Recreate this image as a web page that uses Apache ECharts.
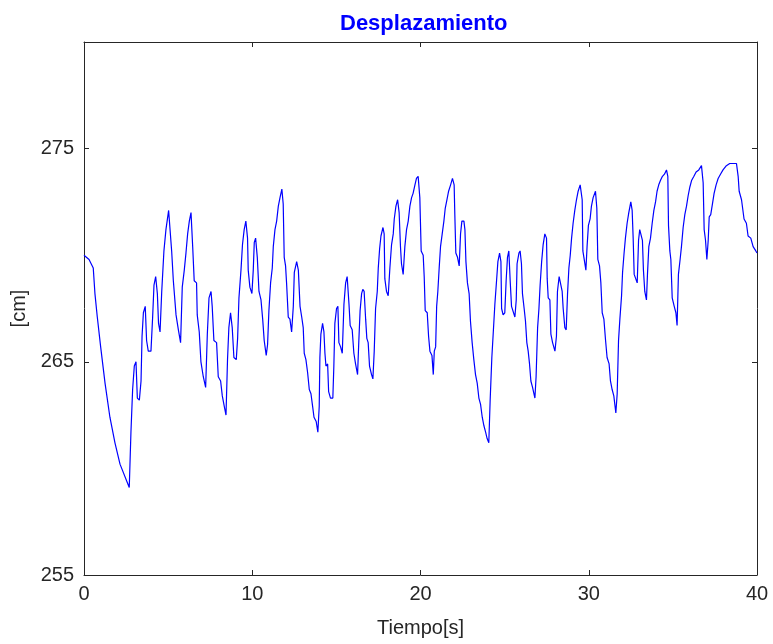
<!DOCTYPE html>
<html>
<head>
<meta charset="utf-8">
<script src="https://cdn.jsdelivr.net/npm/echarts@6/dist/echarts.min.js"></script>
<style>
html,body{margin:0;padding:0;background:#fff;}
#chart{width:773px;height:644px;}
</style>
</head>
<body>
<div id="chart"></div>
<script>
var chartTitle = 'Desplazamiento';
var xAxisName = 'Tiempo[s]';
var yAxisName = '[cm]';
var xTicks = [0, 10, 20, 30, 40];
var yTicks = [255, 265, 275];

var tiempo = [
0,0.3,0.55,0.65,0.79,0.99,1.25,1.54,1.84,2.14,2.69,2.79,2.89,2.99,3.09,3.17,3.29,3.39,3.45,3.53,3.64,3.72,3.82,3.98,4.08,4.16,4.26,4.36,4.43,4.52,4.62,4.75,4.87,5.03,
5.11,5.21,5.31,5.47,5.61,5.74,5.84,5.96,6.06,6.16,6.26,6.36,6.46,6.55,6.69,6.73,6.85,6.95,7.09,7.23,7.33,7.43,7.55,7.62,7.72,7.88,7.98,8.12,8.22,8.34,8.44,8.53,8.61,8.71,8.81,8.91,9.05,9.13,9.21,9.33,9.42,9.52,9.62,9.72,9.76,9.86,9.98,
10.06,10.12,10.2,10.3,10.4,10.52,10.62,10.71,10.83,10.91,10.99,11.09,11.19,11.25,11.35,11.45,11.55,11.65,11.76,11.84,11.9,11.98,12.04,12.14,12.24,12.34,12.44,12.5,12.64,12.74,12.84,12.94,13.03,13.09,13.19,13.29,13.39,13.49,13.59,13.67,13.8,13.9,13.98,14.02,14.08,14.18,14.26,14.32,14.38,14.48,14.54,14.65,14.79,14.85,14.91,15.01,15.09,
15.15,15.25,15.35,15.45,15.55,15.64,15.75,15.82,15.94,16.04,16.14,16.26,16.33,16.41,16.5,16.57,16.65,16.74,16.81,16.89,16.97,17.09,17.17,17.25,17.33,17.43,17.49,17.57,17.65,17.77,17.84,17.88,17.98,18.08,18.18,18.28,18.38,18.44,18.54,18.64,18.73,18.81,18.87,18.97,19.07,19.17,19.27,19.37,19.47,19.56,19.67,19.76,19.86,19.96,20.04,
20.16,20.22,20.28,20.4,20.48,20.56,20.68,20.76,20.82,20.9,20.96,21.03,21.11,21.19,21.29,21.39,21.47,21.57,21.67,21.79,21.9,22.0,22.04,22.1,22.2,22.3,22.38,22.46,22.58,22.64,22.7,22.79,22.89,22.97,23.07,23.17,23.27,23.37,23.47,23.57,23.67,23.77,23.87,23.96,24.06,24.14,24.24,24.32,24.42,24.52,24.6,24.7,24.78,24.82,24.91,
25.01,25.09,25.17,25.25,25.33,25.41,25.51,25.61,25.69,25.74,25.85,25.92,26.0,26.06,26.16,26.24,26.32,26.4,26.48,26.56,26.66,26.8,26.87,26.96,27.04,27.11,27.2,27.29,27.39,27.49,27.53,27.59,27.69,27.75,27.85,27.99,28.08,28.14,28.24,28.34,28.42,28.48,28.58,28.66,28.74,28.82,28.9,28.98,29.07,29.17,29.27,29.37,29.49,29.61,29.65,29.73,29.83,29.9,29.98,30.08,30.16,30.26,30.4,
30.48,30.54,30.64,30.72,30.8,30.9,31.0,31.09,31.21,31.29,31.39,31.49,31.61,31.69,31.77,31.85,31.95,32.01,32.1,32.18,32.28,32.38,32.5,32.58,32.64,32.7,32.8,32.88,32.96,33.03,33.13,33.19,33.25,33.33,33.43,33.49,33.57,33.67,33.77,33.87,33.97,34.06,34.16,34.26,34.38,34.5,34.62,34.7,34.74,34.82,34.88,34.96,35.08,35.18,35.25,
35.33,35.43,35.51,35.61,35.71,35.81,35.91,36.01,36.11,36.25,36.38,36.54,36.7,36.8,36.86,36.94,37.02,37.1,37.16,37.25,37.35,37.45,37.57,37.69,37.83,37.98,38.18,38.38,38.64,38.78,38.88,38.94,39.08,39.23,39.37,39.47,39.63,39.77,39.93,40.0
];

var desplazamiento = [
270.0,269.8,269.4,268.2,267.1,265.7,264.0,262.4,261.2,260.2,259.1,261.7,263.7,264.8,265.0,263.3,263.2,264.1,266.2,267.3,267.6,266.0,265.5,265.5,267.1,268.6,269.0,268.2,266.8,266.4,268.3,270.2,271.2,272.1,
272.1,270.2,268.8,267.2,266.5,265.9,268.5,269.3,270.1,271.0,271.6,272.0,270.4,268.8,268.7,267.2,266.4,265.0,264.3,263.8,266.3,268.0,268.3,267.6,266.0,265.9,264.3,264.1,263.4,262.9,262.5,265.1,266.6,267.3,266.6,265.2,265.1,266.1,268.0,269.3,270.5,271.2,271.6,270.8,269.3,268.5,268.2,
269.3,270.6,270.8,269.9,268.3,267.9,267.0,266.0,265.3,265.8,267.4,268.7,269.4,270.4,271.2,271.6,272.3,272.7,273.1,272.4,269.9,269.5,268.7,267.1,267.0,266.4,267.6,269.2,269.7,269.3,267.6,267.1,266.6,265.4,265.1,264.5,263.7,263.5,262.9,262.4,262.2,261.7,262.9,265.2,266.3,266.8,266.4,265.4,264.8,264.9,263.6,263.3,263.3,264.8,266.8,267.5,267.6,
265.9,265.7,265.4,267.7,268.7,269.0,267.7,266.7,266.5,265.4,264.9,264.4,265.9,267.4,268.2,268.4,268.3,267.0,266.1,265.9,264.8,264.4,264.2,265.5,267.5,268.3,269.4,270.3,270.9,271.3,271.0,268.9,268.3,268.1,269.4,270.5,271.0,271.7,272.3,272.6,272.0,270.4,269.6,269.1,270.4,271.2,271.6,272.3,272.7,272.9,273.3,273.6,273.7,272.7,270.2,
270.0,269.0,267.4,267.3,266.2,265.5,265.3,264.4,265.5,265.7,267.6,268.3,269.4,270.4,271.0,271.6,272.2,272.6,273.0,273.3,273.6,273.3,271.9,270.1,269.9,269.5,271.0,271.6,271.6,271.2,269.7,268.7,268.2,266.9,265.9,265.1,264.4,264.0,263.3,263.0,262.4,262.0,261.7,261.4,261.2,263.2,265.2,266.3,267.7,268.8,269.7,270.1,269.7,267.5,267.2,
267.3,268.8,269.9,270.2,268.8,267.6,267.6,267.1,267.9,269.6,270.1,270.2,269.6,268.2,267.5,266.9,265.9,265.5,264.9,264.1,263.8,263.3,264.3,266.6,267.5,268.6,269.7,270.5,271.0,270.8,268.9,268.0,267.9,266.3,265.9,265.5,266.2,268.3,269.0,269.0,268.3,267.5,266.6,266.5,268.2,269.4,270.0,270.8,271.5,272.1,272.6,273.0,273.3,272.6,270.2,269.8,269.3,270.4,271.4,271.7,272.3,272.7,273.0,
272.2,269.8,269.5,268.7,267.3,267.0,266.0,265.2,264.9,264.1,263.7,263.4,262.6,263.5,266.0,267.0,268.1,269.2,270.1,270.8,271.5,272.0,272.5,272.1,270.8,269.1,269.1,268.7,270.7,271.2,271.2,270.7,269.3,268.3,267.9,269.1,270.4,270.8,271.5,272.1,272.5,273.0,273.3,273.5,273.7,273.8,274.0,273.7,271.4,270.2,269.8,268.0,267.6,267.3,266.7,
269.1,269.8,270.4,271.3,271.9,272.3,272.8,273.2,273.5,273.7,273.9,274.0,274.2,273.4,271.2,270.7,269.8,270.7,271.8,271.9,272.4,272.9,273.3,273.6,273.8,274.0,274.2,274.3,274.3,274.3,273.7,273.0,272.6,271.7,271.5,270.9,270.8,270.4,270.2,270.1
];

var seriesData = tiempo.map(function (t, i) { return [t, desplazamiento[i]]; });

var axisColor = '#262626';
var fontFam = 'Liberation Sans, Arial, sans-serif';

var chart = echarts.init(document.getElementById('chart'), null, {renderer: 'canvas'});
chart.setOption({
  animation: false,
  backgroundColor: '#ffffff',
  title: {
    text: chartTitle,
    left: 335,
    top: 8,
    textStyle: {color: '#0000ff', fontSize: 22, fontWeight: 'bold', fontFamily: fontFam}
  },
  grid: {left: 84, right: 16, top: 42, bottom: 69, containLabel: false},
  xAxis: [{
    type: 'value', min: 0, max: 40, interval: 10, position: 'bottom',
    name: xAxisName, nameLocation: 'middle', nameGap: 43,
    nameTextStyle: {color: axisColor, fontSize: 20, fontFamily: fontFam},
    axisLine: {show: true, onZero: false, lineStyle: {color: axisColor, width: 1}},
    axisTick: {show: true, inside: true, length: 5, lineStyle: {color: axisColor}},
    axisLabel: {show: true, margin: 9, fontSize: 20, color: axisColor, fontFamily: fontFam,
      formatter: function (v) { return xTicks.indexOf(v) >= 0 ? String(v) : ''; }},
    splitLine: {show: false}
  }, {
    type: 'value', min: 0, max: 40, interval: 10, position: 'top',
    axisLine: {show: true, onZero: false, lineStyle: {color: axisColor, width: 1}},
    axisTick: {show: true, inside: true, length: 5, lineStyle: {color: axisColor}},
    axisLabel: {show: false},
    splitLine: {show: false}
  }],
  yAxis: [{
    type: 'value', min: 255, max: 280, interval: 5, position: 'left',
    name: yAxisName, nameLocation: 'middle', nameGap: 50, nameRotate: 90,
    nameTextStyle: {color: axisColor, fontSize: 20, fontFamily: fontFam},
    axisLine: {show: true, onZero: false, lineStyle: {color: axisColor, width: 1}},
    axisTick: {show: true, inside: true, length: 5, lineStyle: {color: axisColor}, customValues: yTicks},
    axisLabel: {show: true, margin: 10, fontSize: 20, color: axisColor, fontFamily: fontFam, customValues: yTicks,
      formatter: function (v) { return yTicks.indexOf(v) >= 0 ? String(v) : ''; }},
    splitLine: {show: false}
  }, {
    type: 'value', min: 255, max: 280, interval: 5, position: 'right',
    axisLine: {show: true, onZero: false, lineStyle: {color: axisColor, width: 1}},
    axisTick: {show: true, inside: true, length: 5, lineStyle: {color: axisColor}, customValues: yTicks},
    axisLabel: {show: false},
    splitLine: {show: false}
  }],
  series: [{
    type: 'line',
    xAxisIndex: 0,
    yAxisIndex: 0,
    data: seriesData,
    showSymbol: false,
    symbol: 'none',
    smooth: false,
    lineStyle: {color: '#0000ff', width: 1.2},
    z: 3
  }]
});
</script>
</body>
</html>
